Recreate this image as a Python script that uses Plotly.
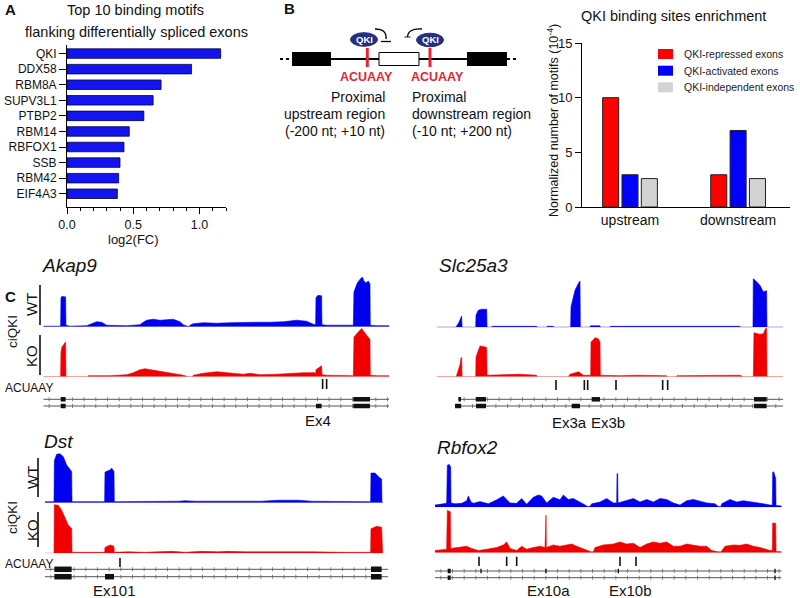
import numpy as np
import plotly.graph_objects as go

W, H = 800, 598
FONT = "Liberation Sans, Arial, Helvetica, sans-serif"

# ---------------- Panel A data ----------------
motif_names = ["QKI", "DDX58", "RBM8A", "SUPV3L1", "PTBP2", "RBM14", "RBFOX1", "SSB", "RBM42", "EIF4A3"]
motif_log2fc = [1.16, 0.94, 0.71, 0.65, 0.58, 0.47, 0.43, 0.40, 0.39, 0.38]

# ---------------- Panel B data ----------------
regions = ["upstream", "downstream"]
repressed = [10.0, 2.95]
activated = [2.95, 7.0]
independent = [2.6, 2.6]
legend_names = ["QKI-repressed exons", "QKI-activated exons", "QKI-independent exons"]

# ---------------- Panel C data (position along gene, coverage % of track scale) ----------------
akap9_wt = [(0, 1), (52, 1), (53, 58), (56, 61), (62, 60), (67, 60), (68, 3), (72, 2), (80, 1), (130, 2), (145, 6),
            (160, 10), (175, 9), (190, 3), (250, 2), (290, 4), (300, 9), (310, 13), (330, 15), (350, 13), (370, 14),
            (390, 15), (410, 10), (420, 4), (432, 1), (434, 0), (437, 0), (440, 3), (450, 6), (480, 8), (520, 7),
            (560, 8), (600, 9), (640, 9), (680, 9), (720, 10), (760, 13), (790, 11), (810, 5), (817, 4), (818, 58),
            (824, 63), (835, 62), (836, 4), (850, 3), (930, 3), (932, 70), (936, 78), (942, 88), (950, 95), (957, 100),
            (962, 92), (968, 88), (975, 92), (980, 86), (981, 3), (1000, 2), (1038, 2)]
akap9_ko = [(0, 0), (52, 0), (53, 50), (56, 60), (62, 65), (66, 70), (67, 70), (68, 2), (70, 0), (134, 0), (135, 2),
            (200, 2), (250, 4), (270, 8), (290, 14), (305, 16), (330, 13), (360, 10), (390, 7), (420, 3), (434, 0),
            (448, 0), (450, 3), (480, 7), (520, 10), (560, 7), (600, 5), (620, 7), (650, 4), (700, 5), (740, 7),
            (780, 8), (815, 8), (817, 3), (818, 14), (825, 18), (832, 22), (835, 22), (836, 4), (850, 3), (930, 2),
            (932, 80), (945, 90), (955, 97), (965, 88), (975, 80), (980, 75), (981, 3), (1000, 2), (1038, 2)]
akap9_motifs = [838, 850]
akap9_exons = [[(53, 67), (930, 980)], [(53, 67), (818, 835), (930, 980)]]
akap9_span = [(0, 1038), (0, 1038)]
akap9_labels = [("Ex4", 825)]

slc_wt = [(0, 0), (57, 0), (65, 8), (73, 23), (75, 23), (76, 0), (117, 0), (118, 25), (125, 35), (135, 37), (150, 37),
          (151, 0), (165, 0), (166, 2), (300, 2), (301, 0), (330, 0), (331, 2), (350, 2), (351, 0), (402, 0),
          (403, 42), (415, 76), (425, 90), (428, 95), (430, 95), (431, 0), (460, 0), (461, 3), (490, 3), (491, 0),
          (520, 0), (521, 2), (910, 2), (911, 0), (949, 0), (950, 100), (960, 93), (970, 86), (980, 73), (990, 75),
          (991, 0), (1040, 0)]
slc_ko = [(0, 0), (57, 0), (60, 3), (70, 25), (73, 39), (75, 39), (76, 0), (117, 0), (118, 41), (130, 63), (140, 62),
          (150, 60), (151, 3), (200, 4), (250, 5), (300, 3), (301, 0), (395, 0), (400, 5), (420, 9), (425, 10),
          (430, 8), (440, 3), (462, 3), (463, 71), (470, 76), (475, 80), (485, 78), (490, 71), (491, 3), (550, 2),
          (600, 3), (690, 2), (691, 0), (720, 0), (721, 2), (800, 3), (870, 4), (910, 3), (920, 0), (950, 0),
          (952, 90), (970, 87), (980, 88), (987, 99), (990, 99), (991, 0), (1040, 0)]
slc_motifs = [358, 443, 453, 538, 678, 693]
slc_exons = [[(65, 73), (118, 148), (465, 490), (952, 990)], [(55, 73), (118, 148), (405, 430), (952, 990)]]
slc_span = [(65, 1040), (55, 1040)]
slc_labels = [("Ex3a", 399), ("Ex3b", 515)]

dst_wt = [(0, 2), (27, 2), (28, 85), (35, 98), (45, 99), (55, 93), (65, 76), (75, 66), (80, 63), (81, 2), (120, 2),
          (179, 2), (180, 62), (190, 64), (195, 66), (200, 70), (207, 63), (208, 2), (300, 2), (400, 3), (420, 4),
          (450, 3), (550, 3), (650, 3), (700, 5), (760, 5), (800, 3), (900, 2), (977, 2), (978, 60), (990, 60),
          (1005, 50), (1010, 48), (1011, 2), (1013, 1)]
dst_ko = [(0, 0), (27, 0), (28, 99), (40, 98), (50, 88), (60, 74), (70, 57), (75, 54), (80, 51), (81, 2), (120, 2),
          (179, 2), (180, 12), (188, 15), (195, 17), (205, 15), (207, 14), (208, 2), (250, 3), (300, 2), (350, 3),
          (380, 4), (420, 2), (470, 4), (520, 3), (550, 4), (600, 3), (660, 3), (700, 4), (800, 3), (900, 2),
          (977, 2), (978, 50), (995, 55), (1010, 53), (1011, 1), (1013, 0)]
dst_motifs = [225]
dst_exons = [[(28, 80), (978, 1010)], [(28, 80), (180, 207), (978, 1010)]]
dst_span = [(0, 1030), (0, 1030)]
dst_labels = [("Ex101", 210)]

rbfox2_wt = [(0, 5), (35, 9), (37, 96), (43, 98), (47, 92), (48, 10), (60, 8), (80, 9), (95, 15), (100, 26),
             (108, 12), (115, 9), (135, 13), (160, 8), (185, 17), (205, 26), (225, 10), (245, 9), (260, 20),
             (275, 7), (295, 23), (310, 28), (320, 26), (335, 10), (355, 23), (375, 17), (385, 28), (400, 18),
             (415, 20), (445, 8), (458, 2), (465, 2), (470, 8), (495, 12), (515, 20), (535, 10), (545, 10),
             (546, 77), (548, 77), (549, 10), (575, 15), (595, 20), (615, 12), (635, 18), (655, 12), (675, 20),
             (695, 18), (715, 10), (735, 5), (755, 15), (775, 18), (795, 14), (815, 10), (840, 8), (850, 2),
             (858, 2), (860, 8), (885, 18), (905, 12), (925, 15), (955, 12), (985, 8), (1005, 5), (1012, 5),
             (1013, 80), (1016, 81), (1022, 66), (1023, 4), (1040, 3)]
rbfox2_ko = [(0, 5), (35, 8), (37, 98), (43, 96), (46, 95), (47, 10), (65, 12), (95, 15), (110, 10), (130, 5),
             (155, 8), (185, 12), (205, 18), (215, 25), (225, 10), (245, 5), (260, 15), (275, 8), (295, 12),
             (315, 15), (330, 12), (331, 87), (333, 87), (334, 12), (355, 18), (375, 15), (395, 18), (410, 20),
             (425, 15), (455, 5), (468, 2), (475, 2), (480, 12), (505, 18), (535, 20), (555, 25), (575, 20),
             (595, 22), (615, 12), (635, 20), (655, 25), (675, 22), (695, 25), (715, 15), (735, 15), (755, 20),
             (775, 18), (795, 15), (815, 15), (830, 5), (850, 2), (858, 2), (870, 15), (895, 18), (915, 17),
             (935, 20), (955, 15), (975, 12), (1005, 5), (1012, 5), (1013, 69), (1022, 68), (1023, 3), (1040, 2)]
rbfox2_motifs = [132, 215, 245, 555, 603]
rbfox2_exons = [[(38, 47), (136, 140), (331, 335), (548, 552), (1018, 1022)], [(38, 47), (1018, 1022)]]
rbfox2_span = [(0, 1040), (0, 1040)]
rbfox2_labels = [("Ex10a", 340), ("Ex10b", 585)]

# ---------------- styling / layout ----------------
BAR_A = "#1414ee"
RED, BLUE, GREY = "#ff0000", "#0000ff", "#d3d3d3"
WT_COL, KO_COL = "#0000ee", "#f00000"
MOTIF_RED = "#e3262f"


def X(p):
    return p / W


def Y(p):
    return 1 - p / H


fig = go.Figure()
shapes, annos = [], []


def text(s, x, y, size, xa="center", ya="middle", color="#111", angle=0, xref="paper"):
    annos.append(dict(text=s, x=(X(x) if xref == "paper" else x), y=Y(y), xref=xref, yref="paper",
                      xanchor=xa, yanchor=ya, showarrow=False, textangle=angle,
                      font=dict(size=size, color=color, family=FONT)))


def rect(x0, y0, x1, y1, fill, line="black", lw=0, xref="paper"):
    shapes.append(dict(type="rect", xref=xref, yref="paper",
                       x0=(X(x0) if xref == "paper" else x0), x1=(X(x1) if xref == "paper" else x1),
                       y0=Y(y1), y1=Y(y0), fillcolor=fill, line=dict(color=line, width=lw), layer="above"))


def seg(x0, y0, x1, y1, color="black", lw=1, dash="solid", xref="paper"):
    shapes.append(dict(type="line", xref=xref, yref="paper",
                       x0=(X(x0) if xref == "paper" else x0), x1=(X(x1) if xref == "paper" else x1),
                       y0=Y(y0), y1=Y(y1), line=dict(color=color, width=lw, dash=dash), layer="above"))


def path(d_pts, color="black", lw=1.3, fill=None, close=False):
    d = ""
    for cmd, xs in d_pts:
        d += cmd + " " + " ".join(f"{X(a):.5f},{Y(b):.5f}" for a, b in xs) + " "
    if close:
        d += "Z"
    sh = dict(type="path", path=d.strip(), xref="paper", yref="paper",
              line=dict(color=color, width=lw), layer="above")
    if fill:
        sh["fillcolor"] = fill
    shapes.append(sh)


# ---------------- Panel A ----------------
fig.add_trace(go.Bar(x=motif_log2fc, y=motif_names, orientation="h", width=0.61,
                     marker=dict(color=BAR_A, line=dict(color="#000040", width=0.8)),
                     xaxis="x", yaxis="y", showlegend=False, hoverinfo="skip"))
text("<b>A</b>", 3, 10, 15, xa="left")
text("Top 10 binding motifs", 135, 10, 14.5)
text("flanking differentially spliced exons", 136, 32, 14.5)
text("log2(FC)", 133, 240, 13)

# ---------------- Panel B bar chart ----------------
for vals, col in zip([repressed, activated, independent], [RED, BLUE, GREY]):
    fig.add_trace(go.Bar(x=regions, y=vals, marker=dict(color=col, line=dict(color="#222", width=1)),
                         xaxis="x2", yaxis="y2", showlegend=False, hoverinfo="skip"))
text("QKI binding sites enrichment", 673, 16, 14.5)
text("Normalized number of motifs (10<sup>-4</sup>)", 553, 121, 12.5, angle=-90)
for i, (nm, col) in enumerate(zip(legend_names, [RED, BLUE, GREY])):
    yc = [54, 70.7, 87.3][i]
    rect(658, yc - 5, 673, yc + 5, col)
    text(nm, 682, yc, 10.5, xa="left", color="#222")

# ---------------- Panel B schematic ----------------
text("<b>B</b>", 282, 9, 15, xa="left")
seg(280, 59, 292, 59, lw=2, dash="dot")
seg(507, 59, 519, 59, lw=2, dash="dot")
seg(292, 59, 507, 59, lw=2)
rect(292, 52, 331, 66, "black")
rect(467, 52, 507, 66, "black")
rect(379, 52.5, 419, 65.5, "white", lw=1)
seg(367.3, 48, 367.3, 67, color=MOTIF_RED, lw=3)
seg(430, 48, 430, 67, color=MOTIF_RED, lw=3)
for cx, cy in [(364, 39.5), (430, 40)]:
    shapes.append(dict(type="circle", xref="paper", yref="paper", x0=X(cx - 13.5), x1=X(cx + 13.5),
                       y0=Y(cy + 6.8), y1=Y(cy - 6.8), fillcolor="#242f80", line=dict(color="#242f80", width=1),
                       layer="above"))
    text("<b>QKI</b>", cx, cy, 9.5, color="white")
path([("M", [(375, 29)]), ("Q", [(387, 29), (386, 39)])])
seg(381, 41.5, 391, 41.5, lw=1.3)
path([("M", [(422, 29)]), ("Q", [(408, 28), (407.5, 37)])])
path([("M", [(404.5, 37)]), ("L", [(410.5, 37), (407.5, 43)])], fill="black", lw=0.5, close=True)
text("<b>ACUAAY</b>", 366.5, 77, 12.5, color=MOTIF_RED)
text("<b>ACUAAY</b>", 437.5, 77, 12.5, color=MOTIF_RED)
for i, s in enumerate(["Proximal", "upstream region", "(-200 nt; +10 nt)"]):
    text(s, 387, 97 + 17 * i, 14, xa="right")
for i, s in enumerate(["Proximal", "downstream region", "(-10 nt; +200 nt)"]):
    text(s, 410, 97 + 17 * i, 14, xa="left")

# ---------------- Panel C ----------------
text("<b>C</b>", 3, 296, 15, xa="left")

genes = [
    dict(name="Akap9", wt=akap9_wt, ko=akap9_ko, motifs=akap9_motifs, exons=akap9_exons, span=akap9_span,
         labels=akap9_labels, xpx=(43.3, 389.3), xmax=1038, wt_px=(276.7, 326.7), ko_px=(326.7, 376.7),
         motif_px=(379, 389), rows=(399.3, 406), exh=4.5, lab_y=420, name_xy=(40, 265), base=True),
    dict(name="Slc25a3", wt=slc_wt, ko=slc_ko, motifs=slc_motifs, exons=slc_exons, span=slc_span,
         labels=slc_labels, xpx=(436.7, 783.3), xmax=1040, wt_px=(278.3, 327.3), ko_px=(327.7, 376.7),
         motif_px=(380, 390), rows=(399.3, 406), exh=4.5, lab_y=422, name_xy=(437, 265), base=True),
    dict(name="Dst", wt=dst_wt, ko=dst_ko, motifs=dst_motifs, exons=dst_exons, span=dst_span,
         labels=dst_labels, xpx=(45, 388.3), xmax=1030, wt_px=(453, 502.7), ko_px=(504, 553.3),
         motif_px=(558, 567), rows=(569.3, 576.7), exh=5.5, lab_y=590, name_xy=(42, 441), base=True),
    dict(name="Rbfox2", wt=rbfox2_wt, ko=rbfox2_ko, motifs=rbfox2_motifs, exons=rbfox2_exons, span=rbfox2_span,
         labels=rbfox2_labels, xpx=(435, 781.7), xmax=1040, wt_px=(463.3, 507.3), ko_px=(509.3, 552.7),
         motif_px=(556.7, 566), rows=(571, 577.7), exh=4.5, lab_y=590, name_xy=(435, 448), base=False),
]

layout_axes = {}
TICK_STEP = 35
for i, g in enumerate(genes):
    xn, ywt, yko = 3 + i, 3 + 2 * i, 4 + 2 * i
    xr = f"x{xn}"
    layout_axes[f"xaxis{xn}"] = dict(domain=[X(g["xpx"][0]), X(g["xpx"][1])], range=[0, g["xmax"]],
                                     visible=False, anchor=f"y{ywt}", fixedrange=True, automargin=False)
    for yk, (top, bot) in [(ywt, g["wt_px"]), (yko, g["ko_px"])]:
        layout_axes[f"yaxis{yk}"] = dict(domain=[Y(bot), Y(top)], range=[0, 100.5], visible=False,
                                         anchor=xr, fixedrange=True, automargin=False)
    if g["base"]:
        fig.add_trace(go.Scatter(x=[0, g["wt"][-1][0]], y=[0, 0], xaxis=xr, yaxis=f"y{ywt}", mode="lines",
                                 line=dict(color="#c4c4d4", width=1.2), showlegend=False, hoverinfo="skip"))
    for pairs, yk, col in [(g["wt"], ywt, WT_COL), (g["ko"], yko, KO_COL)]:
        fig.add_trace(go.Scatter(x=[p[0] for p in pairs], y=[p[1] for p in pairs], xaxis=xr, yaxis=f"y{yk}",
                                 mode="lines", line=dict(color=col, width=0.6), fill="tozeroy", fillcolor=col,
                                 showlegend=False, hoverinfo="skip"))
    for m in g["motifs"]:
        seg(m, g["motif_px"][0], m, g["motif_px"][1], color="#111", lw=1.6, xref=xr)
    for r, ry in enumerate(g["rows"]):
        s, e = g["span"][r]
        seg(s, ry, e, ry, color="#555", lw=1, xref=xr)
        for t in np.arange(s + TICK_STEP / 2, e, TICK_STEP):
            seg(float(t), ry - 2, float(t), ry + 2, color="#666", lw=0.8, xref=xr)
        for (a, b) in g["exons"][r]:
            rect(a, ry - g["exh"] / 2, b, ry + g["exh"] / 2, "#111", xref=xr)
    for lab, pos in g["labels"]:
        annos.append(dict(text=lab, x=pos, y=Y(g["lab_y"]), xref=xr, yref="paper", showarrow=False,
                          xanchor="center", yanchor="middle", font=dict(size=15, color="#111", family=FONT)))
    text(f"<i>{g['name']}</i>", g["name_xy"][0], g["name_xy"][1], 19, xa="left")

text("ACUAAY", 3, 388, 12, xa="left")
text("ACUAAY", 3, 564, 12, xa="left")
for (wt_c, wt_l, ko_c, ko_l, lx, ci) in [((31, 305), (285, 325), (31, 356), (335, 375), 40, 332),
                                         ((32, 478), (458, 497), (32, 530), (512, 547), 38, 518)]:
    text("WT", wt_c[0], wt_c[1], 15, angle=-90)
    text("KO", ko_c[0], ko_c[1], 15, angle=-90)
    seg(lx, wt_l[0], lx, wt_l[1], lw=1.5)
    seg(lx, ko_l[0], lx, ko_l[1], lw=1.5)
    text("ciQKI", 12, ci, 13.5, angle=-90)

fig.update_layout(
    template="none",
    width=W, height=H, margin=dict(l=0, r=0, t=0, b=0, pad=0, autoexpand=False),
    paper_bgcolor="white", plot_bgcolor="white",
    font=dict(family=FONT, color="#111"), showlegend=False, barmode="group", bargap=0.463, bargroupgap=0.17,
    xaxis=dict(domain=[X(67), X(226)], range=[0, 1.2], showline=True, linecolor="black", linewidth=1,
               ticks="outside", ticklen=6, tickcolor="black", tickmode="linear", tick0=0, dtick=0.5,
               tickformat=".1f", tickfont=dict(size=12.5), showgrid=False, zeroline=False, anchor="y",
               minor=dict(tickmode="linear", tick0=0, dtick=0.1, ticklen=3, ticks="outside", tickcolor="black",
                          showgrid=False), fixedrange=True, automargin=False),
    yaxis=dict(domain=[Y(207), Y(45)], type="category", categoryorder="array", categoryarray=motif_names,
               range=[9.85, -0.55], showline=True, linecolor="black", linewidth=1, ticks="outside", ticklen=7,
               tickcolor="black", tickfont=dict(size=12), showgrid=False, zeroline=False, anchor="x",
               fixedrange=True, automargin=False),
    xaxis2=dict(domain=[X(582), X(790)], type="category", categoryorder="array", categoryarray=regions,
                range=[-0.444, 1.48], showline=True, linecolor="black", linewidth=1, ticks="",
                tickfont=dict(size=14), showgrid=False, zeroline=False, anchor="y2", fixedrange=True,
                automargin=False),
    yaxis2=dict(domain=[Y(207), Y(43)], range=[0, 15], tickvals=[0, 5, 10, 15], ticks="outside", ticklen=6,
                tickcolor="black", showline=True, linecolor="black", linewidth=1, tickfont=dict(size=13),
                showgrid=False, zeroline=False, anchor="x2", fixedrange=True, automargin=False),
    shapes=shapes, annotations=annos,
    **layout_axes,
)

fig.write_html("out.html", config={"displayModeBar": False, "staticPlot": True},
               post_script="document.body.style.margin='0px';document.body.style.overflow='hidden';")
